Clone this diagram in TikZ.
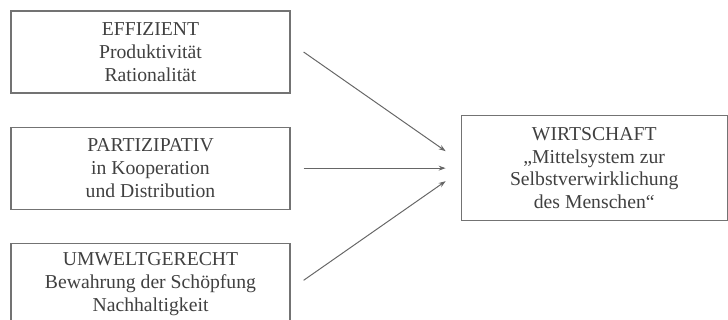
\documentclass[tikz,border=0pt]{standalone}
\usepackage{fontspec}
\setmainfont{Liberation Serif}
\usetikzlibrary{arrows.meta,positioning}

\begin{document}
\begin{tikzpicture}[x=0.025cm, y=-0.025cm, every node/.style={font=\fontsize{14}{16.2}\selectfont, text=black!75}]
\tikzset{ziel/.style={draw=black!55, line width=0.8pt, minimum width=6.975cm, minimum height=2.05cm, align=center, inner sep=0pt}}
\tikzset{wirt/.style={ziel, minimum width=6.65cm, minimum height=2.625cm}}
\tikzset{pfeil/.style={draw=black!60, line width=0.7pt, -{Stealth[length=5pt,width=3.5pt]}}}
\useasboundingbox (0,0) rectangle (728,320);
\node[ziel] (eff) at (150.5,52) {EFFIZIENT\\Produktivität\\Rationalität};
\node[ziel, below=0.825cm of eff] (part) {PARTIZIPATIV\\in Kooperation\\und Distribution};
\node[ziel, below=0.825cm of part] (umw) {UMWELTGERECHT\\Bewahrung der Schöpfung\\Nachhaltigkeit};
\node[wirt, right=4.25cm of part] (wi) {WIRTSCHAFT\\„Mittelsystem zur\\Selbstverwirklichung\\des Menschen“};
\coordinate (z1) at ([xshift=-0.375cm, yshift=0.425cm]wi.west);
\coordinate (z2) at ([xshift=-0.375cm]wi.west);
\coordinate (z3) at ([xshift=-0.375cm, yshift=-0.325cm]wi.west);
\draw[pfeil] ([xshift=0.325cm]eff.east) -- (z1);
\draw[pfeil] ([xshift=0.325cm]part.east) -- (z2);
\draw[pfeil] ([xshift=0.325cm, yshift=0.1cm]umw.east) -- (z3);
\end{tikzpicture}
\end{document}
